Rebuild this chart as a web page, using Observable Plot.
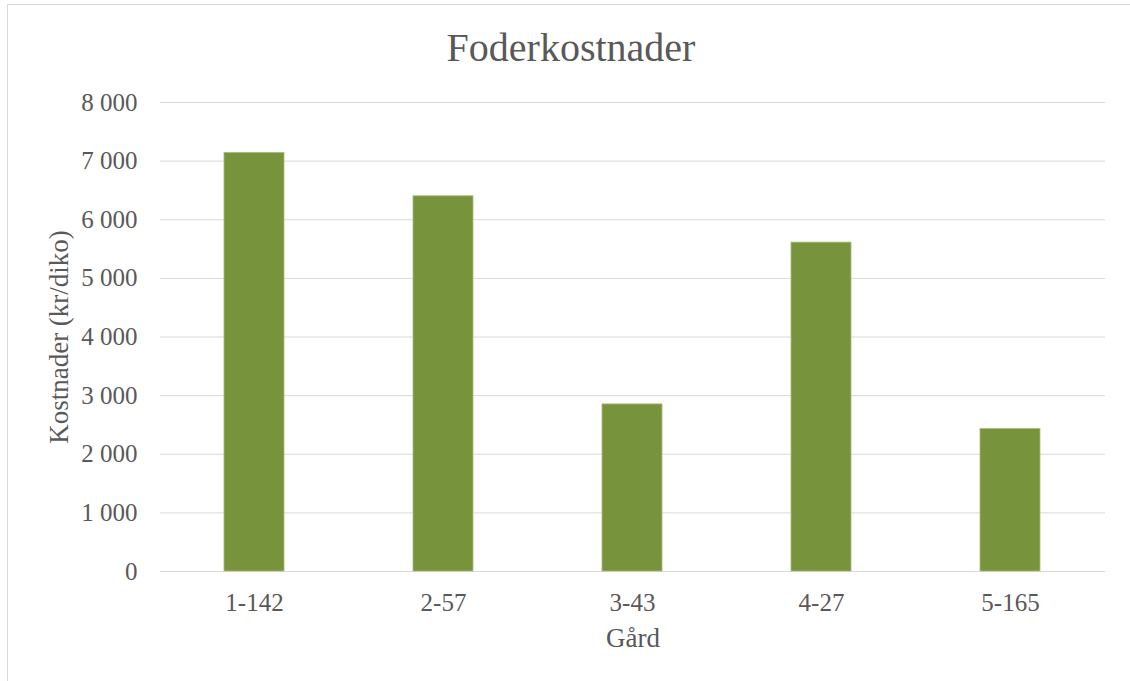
<!DOCTYPE html>
<html><head><meta charset="utf-8">
<script src="https://cdn.jsdelivr.net/npm/d3@7"></script>
<script src="https://cdn.jsdelivr.net/npm/@observablehq/plot@0.6"></script>
<style>
body{margin:0;background:#fff;overflow:hidden;}
#frame{position:absolute;left:7px;top:4px;width:1140px;height:700px;border:1px solid #d9d9d9;box-sizing:border-box;}
#chart{position:absolute;left:0;top:0;width:1130px;}
#title{height:86px;box-sizing:border-box;padding-top:28px;padding-left:12px;text-align:center;font-family:"Liberation Serif";font-size:40px;color:#595959;line-height:40px;}
</style>
</head><body>
<div id="frame"></div>
<div id="chart"><div id="title">Foderkostnader</div></div>
<script>
const farms = ["1-142", "2-57", "3-43", "4-27", "5-165"];
const costs = [7140, 6400, 2850, 5610, 2430];
const yTicks = [0, 1000, 2000, 3000, 4000, 5000, 6000, 7000, 8000];
const xTitle = "Gård";
const yTitle = "Kostnader (kr/diko)";

const data = farms.map((f, i) => ({farm: f, cost: costs[i]}));
const fmt = d => d3.format(",")(d).replace(/,/g, " ");

const svg = Plot.plot({
  width: 1130, height: 595,
  marginTop: 16, marginBottom: 110, marginLeft: 160, marginRight: 25,
  style: {fontFamily: "Liberation Serif", color: "#595959", background: "transparent"},
  x: {domain: farms, paddingInner: 0.68, paddingOuter: 0.34},
  y: {domain: [0, 8000]},
  marks: [
    Plot.gridY(yTicks, {stroke: "#d9d9d9", strokeOpacity: 1, strokeWidth: 1}),
    Plot.barY(data, {x: "farm", y: "cost", fill: "#77933C", stroke: "#a5bd7c", strokeWidth: 0.8}),
    Plot.axisY(yTicks, {tickSize: 0, tickPadding: 23, fontSize: 25, tickFormat: fmt,
      label: yTitle, labelAnchor: "center", labelArrow: "none", labelOffset: 112}),
    Plot.axisX({tickSize: 0, tickPadding: 22, fontSize: 25,
      label: xTitle, labelAnchor: "center", labelArrow: "none", labelOffset: 75})
  ]
});
svg.querySelectorAll('[aria-label$="axis label"] text, [aria-label$="axis label"]').forEach(el => el.setAttribute("font-size", 27));
document.getElementById("chart").appendChild(svg);
</script>
</body></html>
